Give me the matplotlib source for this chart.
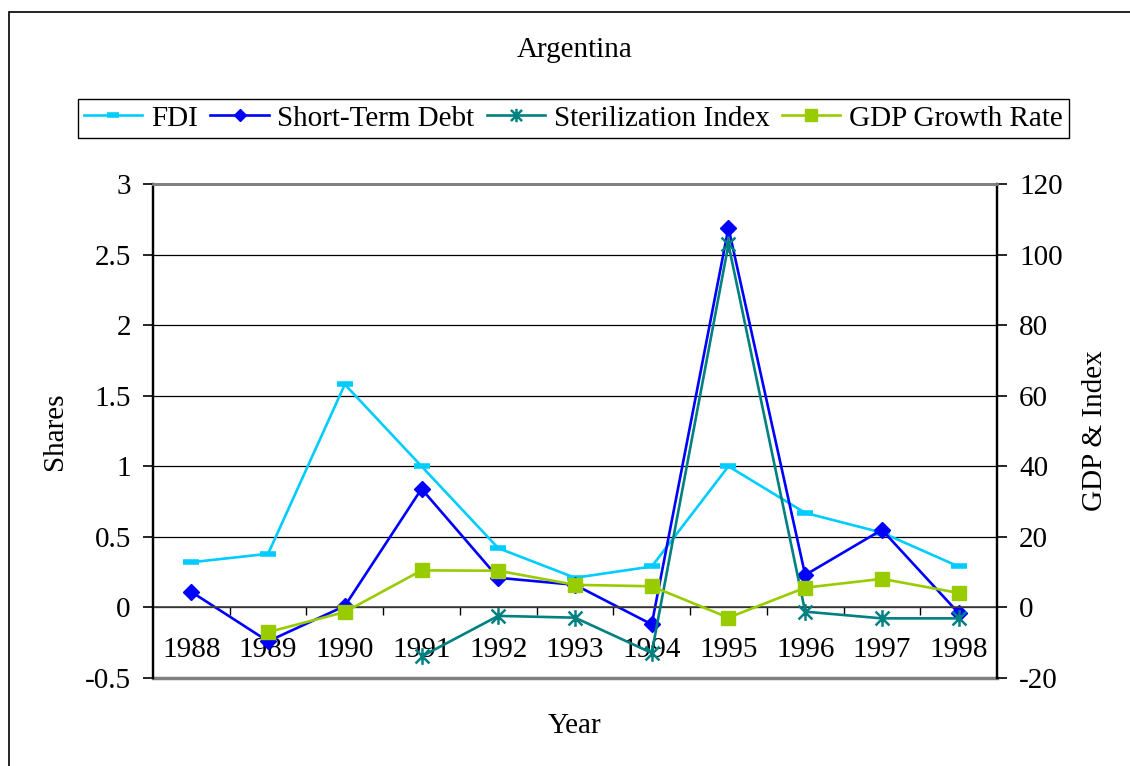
import numpy as np
import matplotlib.pyplot as plt
from matplotlib.path import Path
from matplotlib.patches import Rectangle

plt.rcParams['font.family'] = ['Liberation Serif', 'DejaVu Serif']
plt.rcParams['axes.unicode_minus'] = False

# values
years = ['1988', '1989', '1990', '1991', '1992', '1993',
         '1994', '1995', '1996', '1997', '1998']
fdi = [0.32, 0.38, 1.58, 1.00, 0.42, 0.21, 0.29, 1.00, 0.67, 0.53, 0.29]
short_term_debt = [0.11, -0.24, 0.01, 0.84, 0.21, 0.16, -0.12, 2.69, 0.23, 0.55, -0.04]
sterilization = [np.nan, np.nan, np.nan, -13.9, -2.4, -2.9, -12.9, 102.9, -1.2, -3.1, -3.1]
gdp_growth = [np.nan, -7.0, -1.3, 10.5, 10.4, 6.4, 6.0, -2.9, 5.6, 8.1, 4.1]

FS = 21
x = np.arange(len(years))

# Excel-style asterisk: an X with a vertical bar through it
star = Path([(-1, -1), (1, 1), (-1, 1), (1, -1), (0, -1.2), (0, 1.2)],
            [Path.MOVETO, Path.LINETO, Path.MOVETO, Path.LINETO,
             Path.MOVETO, Path.LINETO])

fig = plt.figure(figsize=(11.3, 7.66), dpi=100)
ax = fig.add_axes([153 / 1130, 1 - 678 / 766, 844 / 1130, 494 / 766])
ax2 = ax.twinx()

# left axis: shares
h1, = ax.plot(x, fdi, color='#00CCFF', lw=1.9, marker='_', ms=11, mew=4,
              label='FDI')
h2, = ax.plot(x, short_term_debt, color='#0000FF', lw=1.9, marker='D', ms=8,
              label='Short-Term Debt')
# right axis: GDP & index
h3, = ax2.plot(x, sterilization, color='#008080', lw=1.9, marker=star, ms=12,
               mfc='none', mec='#008080', mew=1.8, label='Sterilization Index')
h4, = ax2.plot(x, gdp_growth, color='#99CC00', lw=1.9, marker='s', ms=10.5,
               label='GDP Growth Rate')

ax.set_xlim(-0.5, len(years) - 0.5)
ax.set_ylim(-0.5, 3)
ax2.set_ylim(-20, 120)
ax.set_yticks(np.arange(-0.5, 3.01, 0.5))
ax.set_yticklabels(['-0.5', '0', '0.5', '1', '1.5', '2', '2.5', '3'])
ax2.set_yticks(np.arange(-20, 121, 20))

ax.yaxis.grid(True, color='black', lw=0.9)
ax.set_axisbelow(True)

# category axis crosses at zero
ax.spines['bottom'].set_position(('data', 0))
ax.spines['bottom'].set_color('#404040')
ax.spines['bottom'].set_linewidth(1.2)
ax.set_xticks(np.arange(0.5, len(years) - 1, 1))
ax.set_xticklabels([])
ax.set_xticks(x, minor=True)
ax.set_xticklabels(years, minor=True, fontsize=FS)
ax.tick_params(axis='x', which='major', direction='out', length=6, width=1,
               color='black')
ax.tick_params(axis='x', which='minor', length=0, pad=21)

ax.tick_params(axis='y', direction='out', length=7, width=1.2, pad=9,
               labelsize=FS)
ax2.tick_params(axis='y', direction='out', length=7, width=1.2, pad=9,
                labelsize=FS)

for a in (ax, ax2):
    a.spines['top'].set_color('#808080')
    a.spines['top'].set_linewidth(2)
    a.spines['left'].set_color('black')
    a.spines['left'].set_linewidth(1.6)
    a.spines['right'].set_color('black')
    a.spines['right'].set_linewidth(1.6)
ax2.spines['bottom'].set_visible(False)
ax.axhline(-0.5, color='#808080', lw=2.5, clip_on=False)

fig.text(575 / 1130, 1 - 50 / 766, 'Argentina', ha='center', va='center',
         fontsize=FS)
fig.text(575 / 1130, 1 - 726 / 766, 'Year', ha='center', va='center',
         fontsize=FS)
fig.text(55 / 1130, 1 - 431 / 766, 'Shares', ha='center', va='center',
         rotation=90, fontsize=FS)
fig.text(1095 / 1130, 1 - 431 / 766, 'GDP & Index', ha='center', va='center',
         rotation=90, fontsize=FS)

leg = fig.legend([h1, h2, h3, h4],
                 ['FDI', 'Short-Term Debt', 'Sterilization Index', 'GDP Growth Rate'],
                 loc='center', bbox_to_anchor=(573.5 / 1130, 1 - 118.5 / 766),
                 ncol=4, fontsize=FS, frameon=True, fancybox=False,
                 edgecolor='black', framealpha=1, markerscale=0.8,
                 handlelength=2.0, handletextpad=0.3, columnspacing=0.42,
                 borderpad=0.2, borderaxespad=0)
leg.get_frame().set_linewidth(1.0)

# outer chart border (runs off the right and bottom edges)
fig.add_artist(Rectangle((9 / 1130, -0.1), 1.2, 1.1 - 12 / 766,
                         transform=fig.transFigure, fill=False,
                         ec='black', lw=1.2))

fig.savefig('out.png', dpi=100)
